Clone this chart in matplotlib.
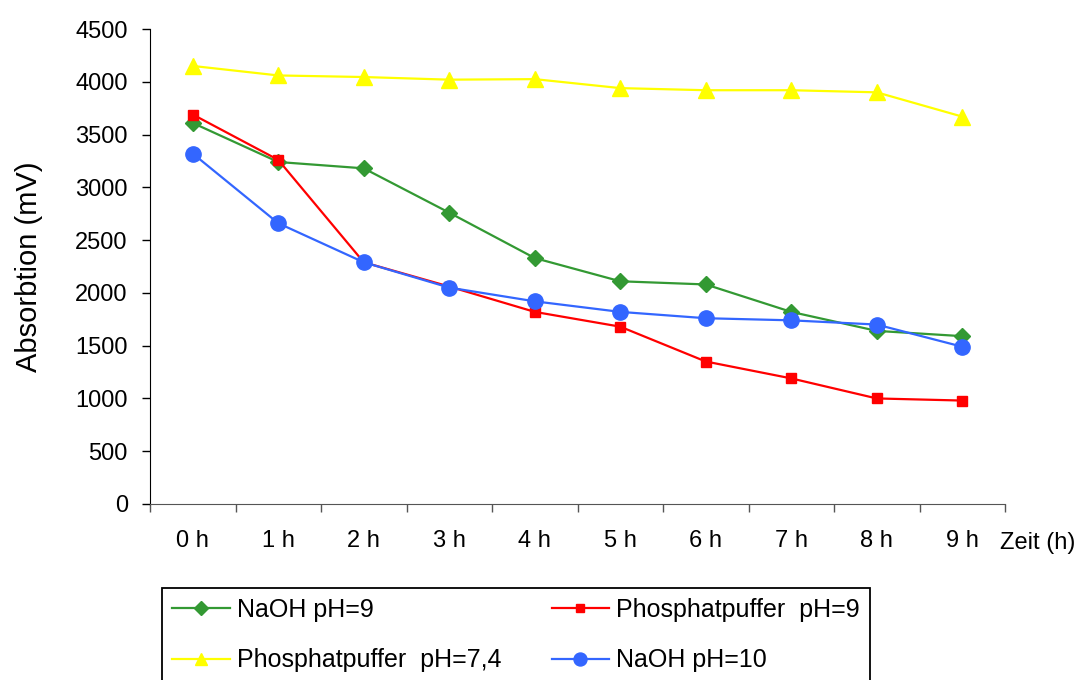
import numpy as np
import matplotlib.pyplot as plt
from matplotlib.ticker import FixedLocator

# Daten
zeiten = ['0 h', '1 h', '2 h', '3 h', '4 h', '5 h', '6 h', '7 h', '8 h', '9 h']
naoh_ph9 = [3610, 3240, 3180, 2760, 2330, 2110, 2080, 1820, 1640, 1590]
phosphat_ph9 = [3690, 3260, 2290, 2060, 1820, 1680, 1350, 1190, 1000, 980]
phosphat_ph74 = [4150, 4060, 4045, 4020, 4025, 3940, 3920, 3920, 3900, 3670]
naoh_ph10 = [3320, 2660, 2290, 2050, 1920, 1820, 1760, 1740, 1700, 1490]

plt.rcParams['font.family'] = ['Liberation Sans', 'DejaVu Sans']

fig = plt.figure(figsize=(10.9, 6.8), dpi=100)
ax = fig.add_axes([150/1090, 1 - 504/680, 855/1090, 475/680])

x = np.arange(len(zeiten))
l1, = ax.plot(x, naoh_ph9, color='#339933', marker='D', markersize=8, lw=1.6,
              label='NaOH pH=9')
l2, = ax.plot(x, phosphat_ph9, color='#ff0000', marker='s', markersize=7, lw=1.6,
              label='Phosphatpuffer  pH=9')
l3, = ax.plot(x, phosphat_ph74, color='#ffff00', marker='^', markersize=11, lw=1.6,
              label='Phosphatpuffer  pH=7,4')
l4, = ax.plot(x, naoh_ph10, color='#3366ff', marker='o', markersize=11, lw=1.6,
              label='NaOH pH=10')

# Achsen
ax.set_xlim(-0.5, len(zeiten) - 0.5)
ax.set_ylim(0, 4500)
ax.set_yticks(np.arange(0, 4501, 500))
ax.set_xticks(x)
ax.set_xticklabels(zeiten)
ax.xaxis.set_minor_locator(FixedLocator(np.arange(-0.5, len(zeiten), 1)))
ax.tick_params(axis='x', which='major', length=0, pad=19, labelsize=17)
ax.tick_params(axis='x', which='minor', length=6, width=1, color='#555555')
ax.tick_params(axis='y', length=6, width=1, pad=10, labelsize=17)
for s in ['top', 'right']:
    ax.spines[s].set_visible(False)
ax.spines['bottom'].set_color('#555555')
ax.spines['left'].set_color('black')

ax.set_ylabel('Absorbtion (mV)', fontsize=21, labelpad=23)
fig.text(1000/1090, 1 - 543/680, 'Zeit (h)', fontsize=17, ha='left', va='center')

# Legende (Reihenfolge zeilenweise wie im Original)
handles = [l1, l3, l2, l4]
leg = fig.legend(handles, [h.get_label() for h in handles],
                 loc='upper left', ncol=2,
                 bbox_to_anchor=(162/1090, 1 - 588/680),
                 fontsize=18, frameon=True, fancybox=False, edgecolor='black',
                 framealpha=1, borderaxespad=0, borderpad=0.4, labelspacing=1.05,
                 handlelength=2.3, handletextpad=0.3, columnspacing=2.0)
leg.get_frame().set_linewidth(1.3)
for h in leg.legend_handles:
    h.set_markersize(h.get_markersize() * 0.85)

fig.savefig('out.png', dpi=100)
